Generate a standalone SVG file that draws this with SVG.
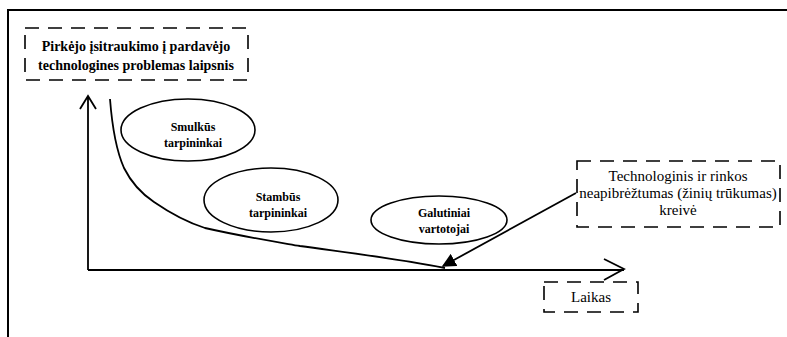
<svg xmlns="http://www.w3.org/2000/svg" width="787" height="337" viewBox="0 0 787 337" font-family="Liberation Serif, serif">
<style>
.frame{fill:none;stroke:#000;stroke-width:2}
.dash{fill:none;stroke:#000;stroke-width:1.6;stroke-dasharray:14,9}
.ell{fill:#fff;stroke:#000;stroke-width:1.6}
.ln{fill:none;stroke:#000;stroke-width:1.8}
</style>
<defs>
<marker id="tri" viewBox="0 0 10 10" refX="9" refY="5" markerWidth="14" markerHeight="14" markerUnits="userSpaceOnUse" orient="auto">
<path d="M0,0 L10,5 L0,10 Z" fill="#000"/>
</marker>
</defs>
<path class="frame" d="M8,337 V10 H787"/>
<g id="connectors">
<path class="ln" d="M88,270 V96 M80,109 L88,96 L96,109"/>
<path class="ln" d="M88,270 H624 M604,259 L624,269 L604,280"/>
<path class="ln" d="M110,99 C112,125 116,150 124,168 C132,184 142,194 154,202 C170,213 186,222 205,228 C240,236 265,240 300,246 C350,253 400,259 445,268"/>
<path class="ln" d="M576,193 L443,266" marker-end="url(#tri)"/>
</g>
<g id="ylabel">
<rect class="dash" x="25" y="28" width="223" height="52"/>
<text x="136" y="51" style="font-family:'Liberation Serif',serif;font-size:14px;font-weight:bold" text-anchor="middle">Pirkėjo įsitraukimo į pardavėjo</text>
<text x="136" y="70" style="font-family:'Liberation Serif',serif;font-size:14px;font-weight:bold" text-anchor="middle">technologines problemas laipsnis</text>
</g>
<g id="smulkus">
<ellipse class="ell" cx="188" cy="130" rx="67" ry="31"/>
<text x="193" y="131" style="font-family:'Liberation Serif',serif;font-size:12px;font-weight:bold" text-anchor="middle">Smulkūs</text>
<text x="193" y="147" style="font-family:'Liberation Serif',serif;font-size:12px;font-weight:bold" text-anchor="middle">tarpininkai</text>
</g>
<g id="stambus">
<ellipse class="ell" cx="271" cy="200" rx="67" ry="32"/>
<text x="278" y="201" style="font-family:'Liberation Serif',serif;font-size:12px;font-weight:bold" text-anchor="middle">Stambūs</text>
<text x="278" y="217" style="font-family:'Liberation Serif',serif;font-size:12px;font-weight:bold" text-anchor="middle">tarpininkai</text>
</g>
<g id="galutiniai">
<ellipse class="ell" cx="439" cy="220" rx="68" ry="24"/>
<text x="444" y="217" style="font-family:'Liberation Serif',serif;font-size:12px;font-weight:bold" text-anchor="middle">Galutiniai</text>
<text x="444" y="233" style="font-family:'Liberation Serif',serif;font-size:12px;font-weight:bold" text-anchor="middle">vartotojai</text>
</g>
<g id="curvelabel">
<rect class="dash" x="577" y="161" width="203" height="66"/>
<text x="678" y="181" style="font-family:'Liberation Serif',serif;font-size:15px" text-anchor="middle">Technologinis ir rinkos</text>
<text x="678" y="198" style="font-family:'Liberation Serif',serif;font-size:15px" text-anchor="middle">neapibrėžtumas (žinių trūkumas)</text>
<text x="678" y="215" style="font-family:'Liberation Serif',serif;font-size:15px" text-anchor="middle">kreivė</text>
</g>
<g id="laikas">
<rect class="dash" x="544" y="282" width="94" height="30"/>
<text x="591" y="302" style="font-family:'Liberation Serif',serif;font-size:15px" text-anchor="middle">Laikas</text>
</g>
</svg>
